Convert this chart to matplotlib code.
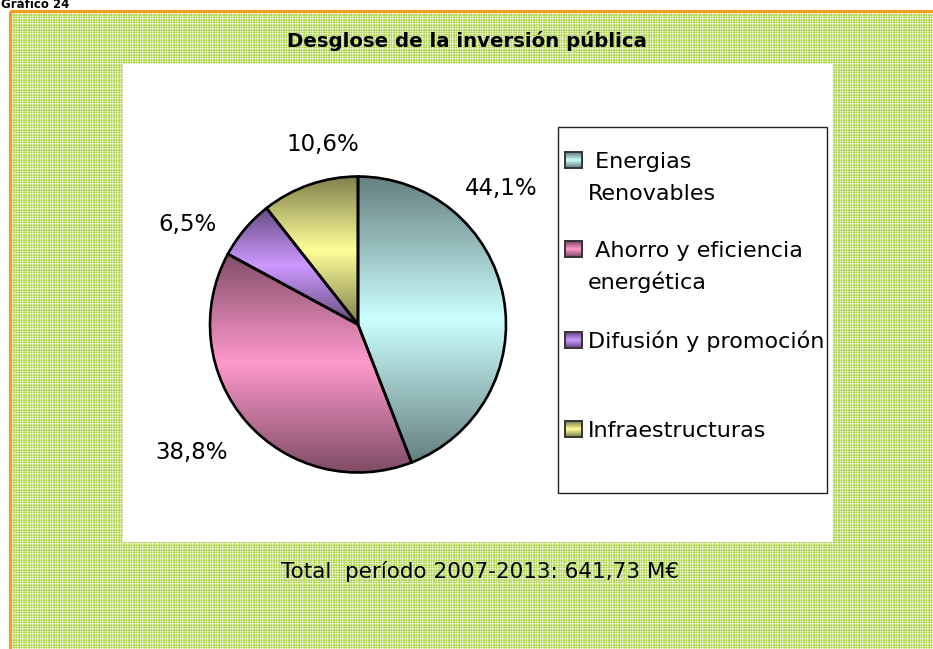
import numpy as np
import matplotlib
matplotlib.use('Agg')
import matplotlib.pyplot as plt
import matplotlib.patches as patches
from matplotlib.colors import to_rgb

# data
categories = [' Energias\nRenovables', ' Ahorro y eficiencia\nenergética',
              'Difusión y promoción', 'Infraestructuras']
shares = [44.1, 38.8, 6.5, 10.6]
colors = ['#ccffff', '#ff99cc', '#cc99ff', '#ffff99']
title = 'Desglose de la inversión pública'
footer = 'Total  período 2007-2013: 641,73 M€'
header = 'Gráfico 24'

W, H = 933, 649
FONT = 'DejaVu Sans'

# label centres (pixels) - Excel puts them outside the pie
label_xy = [(501, 189), (192, 453), (188, 224), (323, 145)]
legend_rows = [168, 257, 348, 437]   # baseline of first line for each entry
line_step = 32


def band_gradient(color, n=200):
    # dark at top and bottom, light in the middle (Excel "from center" shading)
    light = np.array(to_rgb(color))
    dark = light * 0.5
    t = np.linspace(0, 1, n)
    k = 1 - np.abs(2 * t - 1)
    img = dark[None, :] + (light - dark)[None, :] * k[:, None]
    return img[:, None, :]


def plaid(h, w):
    # light green checked background
    wr = np.array([0.05, 0.95, 0.35, 0.05, 0.65])
    wc = np.array([0.1, 0.9, 0.3, 0.05, 0.7])
    rr = wr[np.arange(h) % 5][:, None]
    cc = wc[np.arange(w) % 5][None, :]
    wgt = 0.5 * (rr + cc)
    green = np.array(to_rgb('#a8d03e'))
    return green[None, None, :] * (1 - wgt[..., None]) + wgt[..., None]


fig = plt.figure(figsize=(W / 100, H / 100), dpi=100)
fig.patch.set_facecolor('white')

bg = fig.add_axes([0, 0, 1, 1])
bg.set_xlim(0, W)
bg.set_ylim(H, 0)
bg.axis('off')

# textured frame with orange border
bg.imshow(plaid(H - 12, W - 11), extent=(11, W, H, 12), interpolation='nearest',
          aspect='auto', zorder=0)
bg.plot([10, W], [11, 11], color='#f59c1a', lw=2.2, zorder=1, solid_capstyle='butt')
bg.plot([10, 10], [11, H], color='#f59c1a', lw=2.2, zorder=1, solid_capstyle='butt')

# white chart area
bg.add_patch(patches.Rectangle((123, 64), 710, 478, facecolor='white',
                               edgecolor='none', zorder=2))

bg.text(1, 8.5, header, fontsize=8.5, fontweight='bold', family=FONT,
        va='baseline', ha='left', zorder=3)
bg.text(467, 41, title, fontsize=14.2, fontweight='bold', family=FONT,
        ha='center', va='center', zorder=3)
bg.text(480, 571, footer, fontsize=15.5, family=FONT,
        ha='center', va='center', zorder=3)

for v, (x, y) in zip(shares, label_xy):
    bg.text(x, y, f'{v:.1f}%'.replace('.', ','), fontsize=16.5, family=FONT,
            ha='center', va='center', zorder=3)

# legend box
bg.add_patch(patches.Rectangle((558, 127), 269, 366, facecolor='white',
                               edgecolor='#222222', lw=1.0, zorder=3))
for lab, col, yb in zip(categories, colors, legend_rows):
    bg.imshow(band_gradient(col, 16), extent=(565, 582, yb, yb - 16),
              interpolation='bilinear', aspect='auto', zorder=4)
    bg.add_patch(patches.Rectangle((565, yb - 16), 17, 16, facecolor='none',
                                   edgecolor='#333333', lw=1.4, zorder=5))
    for i, part in enumerate(lab.split('\n')):
        bg.text(588, yb + i * line_step, part, fontsize=16, family=FONT,
                ha='left', va='baseline', zorder=5)

# pie
cx, cy, r = 358, 324.5, 148
pad = 152
ax = fig.add_axes([(cx - pad) / W, 1 - (cy + pad) / H, 2 * pad / W, 2 * pad / H])
ax.axis('off')
wedges, _ = ax.pie(shares, colors=colors, startangle=90, counterclock=False,
                   radius=1.0)
for w, col in zip(wedges, colors):
    x0, y0, x1, y1 = w.get_path().get_extents().extents
    im = ax.imshow(band_gradient(col), extent=(x0, x1, y0, y1),
                   interpolation='bilinear', aspect='auto', zorder=1)
    im.set_clip_path(w)
    w.set_facecolor('none')
    w.set_edgecolor('black')
    w.set_linewidth(1.9)
    w.set_zorder(3)
lim = pad / r
ax.set_xlim(-lim, lim)
ax.set_ylim(-lim, lim)
ax.set_aspect('auto')

fig.savefig('out.png', dpi=100)
